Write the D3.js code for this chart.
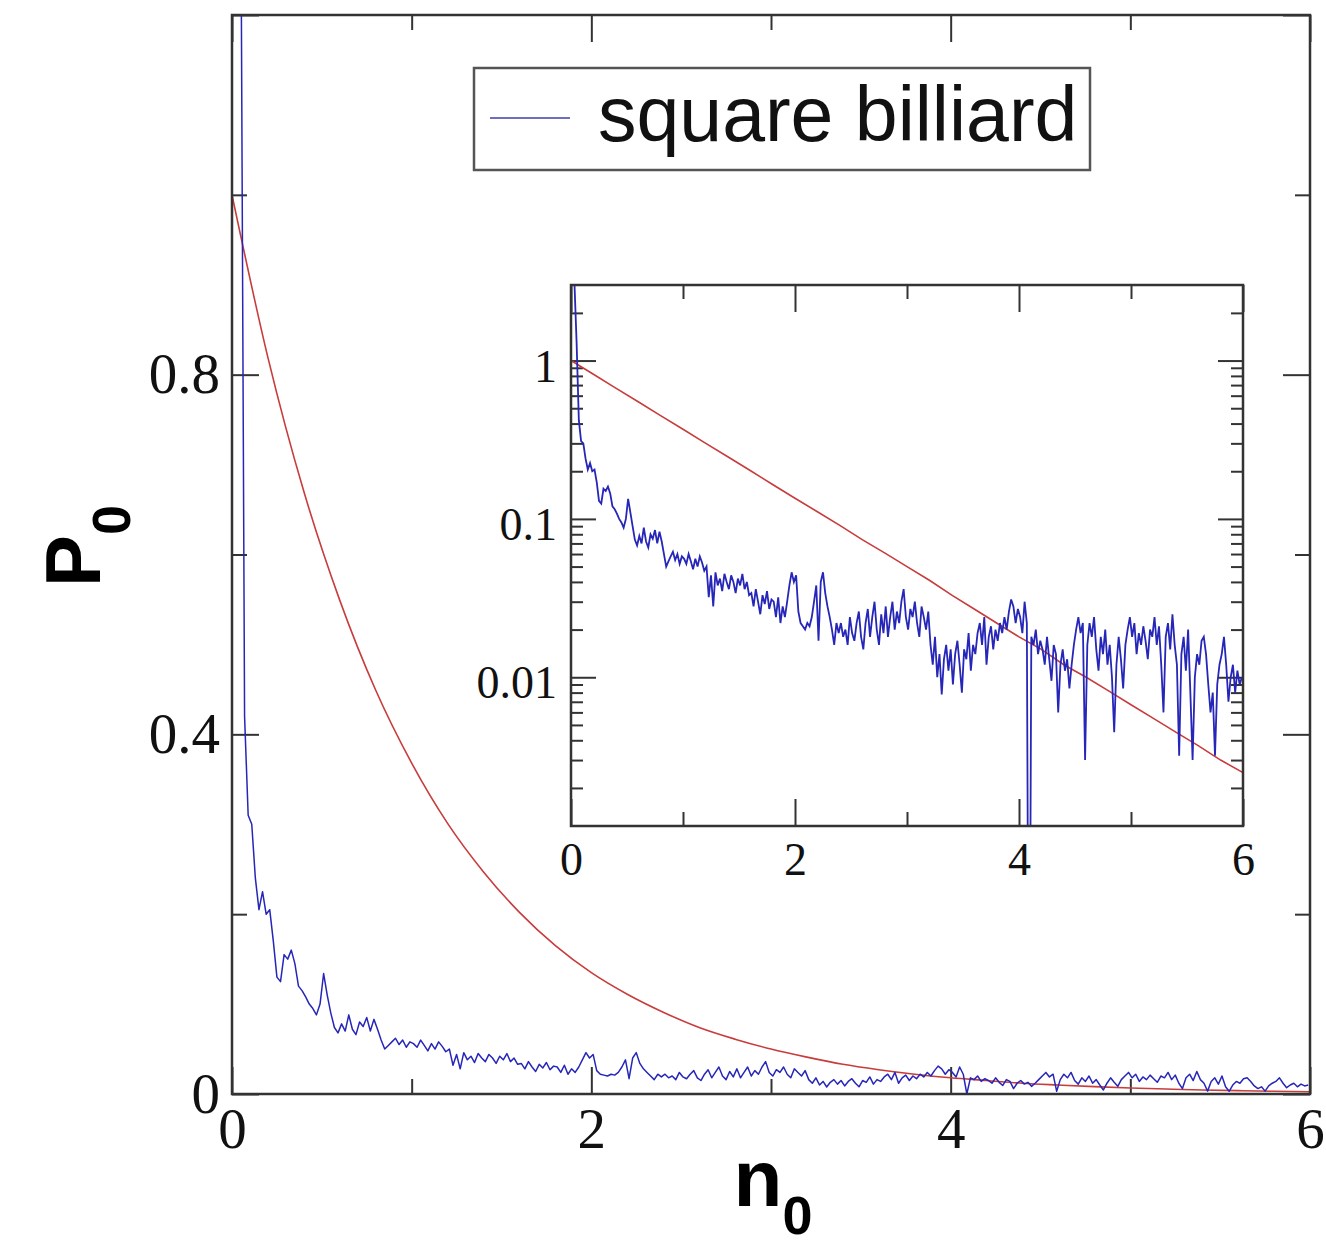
<!DOCTYPE html>
<html>
<head>
<meta charset="utf-8">
<script src="https://cdn.jsdelivr.net/npm/d3@7"></script>
<style>
  body { margin: 0; background: #fff; }
  svg { display: block; }
</style>
</head>
<body>
<div id="chart"></div>
<script>
// square billiard histogram, bins of 0.02 in n0
const binStart = 0.01;
const binStep = 0.02;
const billiardP0 = [
  5.0, 3.2, 1.3, 0.42, 0.31, 0.30, 0.24, 0.205, 0.225, 0.2,
  0.205, 0.17, 0.13, 0.125, 0.155, 0.15, 0.16, 0.145, 0.12, 0.115,
  0.108, 0.1, 0.095, 0.088, 0.1, 0.134, 0.11, 0.09, 0.074, 0.068,
  0.078, 0.07, 0.088, 0.072, 0.066, 0.08, 0.075, 0.085, 0.07, 0.083,
  0.072, 0.06, 0.05, 0.054, 0.058, 0.062, 0.055, 0.06, 0.052, 0.058,
  0.056, 0.052, 0.06, 0.054, 0.048, 0.056, 0.05, 0.058, 0.053, 0.047,
  0.05, 0.032, 0.044, 0.028, 0.046, 0.038, 0.042, 0.035, 0.045, 0.04,
  0.036, 0.044, 0.04, 0.034, 0.042, 0.038, 0.045, 0.036, 0.04, 0.033,
  0.034, 0.028, 0.036, 0.03, 0.025, 0.033, 0.029, 0.035, 0.027, 0.031,
  0.03, 0.024, 0.032, 0.022, 0.028, 0.024, 0.03, 0.038, 0.046, 0.04,
  0.044, 0.026, 0.022, 0.021, 0.02, 0.022, 0.021, 0.024, 0.03, 0.038,
  0.017, 0.04, 0.046, 0.034, 0.028, 0.024, 0.02, 0.016, 0.022, 0.019,
  0.022, 0.018, 0.02, 0.016, 0.024, 0.019, 0.017, 0.022, 0.026, 0.018,
  0.015, 0.022, 0.027, 0.018, 0.024, 0.03, 0.02, 0.016, 0.025, 0.019,
  0.028, 0.018, 0.024, 0.03, 0.02, 0.026, 0.022, 0.03, 0.036, 0.024,
  0.02, 0.027, 0.024, 0.03, 0.022, 0.018, 0.028, 0.024, 0.02, 0.026,
  0.016, 0.012, 0.018, 0.01, 0.014, 0.0078, 0.013, 0.016, 0.011, 0.015,
  0.009, 0.014, 0.017, 0.012, 0.008, 0.015, 0.013, 0.019, 0.011, 0.016,
  0.014, 0.019, 0.022, 0.016, 0.024, 0.012, 0.018, 0.021, 0.015, 0.02,
  0.017, 0.022, 0.019, 0.024, 0.02, 0.026, 0.031, 0.028, 0.022, 0.027,
  0.024, 0.019, 0.03, 0.022, 0, 0.018, 0.016, 0.02, 0.014, 0.017,
  0.015, 0.012, 0.018, 0.013, 0.0095, 0.016, 0.014, 0.006, 0.012, 0.015,
  0.011, 0.013, 0.0085, 0.012, 0.016, 0.02, 0.024, 0.019, 0.022, 0.003,
  0.016, 0.022, 0.018, 0.024, 0.015, 0.011, 0.018, 0.014, 0.02, 0.012,
  0.016, 0.01, 0.0045, 0.012, 0.018, 0.013, 0.0085, 0.016, 0.02, 0.024,
  0.018, 0.022, 0.014, 0.019, 0.016, 0.021, 0.017, 0.013, 0.02, 0.018,
  0.024, 0.016, 0.021, 0.012, 0.006, 0.018, 0.022, 0.015, 0.025, 0.016,
  0.012, 0.0032, 0.014, 0.018, 0.011, 0.02, 0.008, 0.003, 0.01, 0.014,
  0.012, 0.017, 0.018, 0.014, 0.009, 0.006, 0.008, 0.0032, 0.009, 0.012,
  0.014, 0.018, 0.012, 0.007, 0.01, 0.012, 0.008, 0.011, 0.009, 0.01
];

// reference curve (red), read every 0.2
const curveStep = 0.2;
const curveP0 = [
  1.0, 0.819, 0.670, 0.549, 0.449, 0.368, 0.301, 0.247, 0.202, 0.165,
  0.135, 0.111, 0.091, 0.074, 0.061, 0.050, 0.041, 0.033, 0.027, 0.022,
  0.018, 0.015, 0.012, 0.010, 0.0082, 0.0067, 0.0055, 0.0045, 0.0037, 0.0030,
  0.0025
];

const mainXMajor = [0, 2, 4, 6];
const mainXMinor = [1, 3, 5];
const mainYMajor = [0, 0.4, 0.8, 1.2];
const mainYMinor = [0.2, 0.6, 1.0];
const mainYLabels = ['0', '0.4', '0.8', ''];
const insetXMajor = [0, 2, 4, 6];
const insetXMinor = [1, 3, 5];
const insetYMajor = [0.01, 0.1, 1];
const insetYLabels = ['0.01', '0.1', '1'];
const legendLabel = 'square billiard';

const W = 1326, H = 1250;
const BLUE = '#2626b8';
const RED = '#c83c3c';
const FRAME = '#333';

const svg = d3.select('#chart').append('svg')
  .attr('width', W)
  .attr('height', H)
  .style('background-color', 'white');

const blueData = billiardP0.map((v, i) => [binStart + i * binStep, v]);
const redData = curveP0.map((v, i) => [i * curveStep, v]);

// ---------- main plot ----------
const m = { left: 232, right: 1310, top: 15, bottom: 1094 };
const x = d3.scaleLinear().domain([0, 6]).range([m.left, m.right]);
const y = d3.scaleLinear().domain([0, 1.2]).range([m.bottom, m.top]);

svg.append('clipPath').attr('id', 'clip-main')
  .append('rect')
  .attr('x', m.left).attr('y', m.top)
  .attr('width', m.right - m.left).attr('height', m.bottom - m.top);

function styleAxis(g, size) {
  g.select('.domain').remove();
  g.selectAll('line').attr('stroke', FRAME).attr('stroke-width', 2);
  g.selectAll('text')
    .attr('fill', '#111')
    .style('font-family', "'Liberation Serif', 'Times New Roman', serif")
    .style('font-size', size + 'px');
}

// bottom
svg.append('g').attr('transform', `translate(0,${m.bottom})`)
  .call(d3.axisBottom(x).tickValues(mainXMajor).tickSize(-27).tickPadding(14).tickFormat(d3.format('d')))
  .call(g => styleAxis(g, 57));
svg.append('g').attr('transform', `translate(0,${m.bottom})`)
  .call(d3.axisBottom(x).tickValues(mainXMinor).tickSize(-15).tickFormat(''))
  .call(g => styleAxis(g, 57));
// top
svg.append('g').attr('transform', `translate(0,${m.top})`)
  .call(d3.axisTop(x).tickValues(mainXMajor).tickSize(-27).tickFormat(''))
  .call(g => styleAxis(g, 57));
svg.append('g').attr('transform', `translate(0,${m.top})`)
  .call(d3.axisTop(x).tickValues(mainXMinor).tickSize(-15).tickFormat(''))
  .call(g => styleAxis(g, 57));
// left
svg.append('g').attr('transform', `translate(${m.left},0)`)
  .call(d3.axisLeft(y).tickValues(mainYMajor).tickSize(-27).tickPadding(12)
    .tickFormat((d, i) => mainYLabels[i]))
  .call(g => styleAxis(g, 57));
svg.append('g').attr('transform', `translate(${m.left},0)`)
  .call(d3.axisLeft(y).tickValues(mainYMinor).tickSize(-15).tickFormat(''))
  .call(g => styleAxis(g, 57));
// right
svg.append('g').attr('transform', `translate(${m.right},0)`)
  .call(d3.axisRight(y).tickValues(mainYMajor).tickSize(-27).tickFormat(''))
  .call(g => styleAxis(g, 57));
svg.append('g').attr('transform', `translate(${m.right},0)`)
  .call(d3.axisRight(y).tickValues(mainYMinor).tickSize(-15).tickFormat(''))
  .call(g => styleAxis(g, 57));

const mainLines = svg.append('g').attr('clip-path', 'url(#clip-main)');
mainLines.append('path')
  .datum(redData)
  .attr('fill', 'none')
  .attr('stroke', RED)
  .attr('stroke-width', 1.6)
  .attr('d', d3.line().x(d => x(d[0])).y(d => y(d[1])).curve(d3.curveMonotoneX));
mainLines.append('path')
  .datum(blueData)
  .attr('fill', 'none')
  .attr('stroke', BLUE)
  .attr('stroke-width', 1.5)
  .attr('stroke-linejoin', 'round')
  .attr('d', d3.line().x(d => x(d[0])).y(d => y(d[1])));

svg.append('rect')
  .attr('x', m.left).attr('y', m.top)
  .attr('width', m.right - m.left).attr('height', m.bottom - m.top)
  .attr('fill', 'none').attr('stroke', FRAME).attr('stroke-width', 2.5);

// axis titles
const xTitle = svg.append('text')
  .attr('x', 773).attr('y', 1206)
  .attr('text-anchor', 'middle')
  .style('font-family', "'Liberation Sans', Arial, sans-serif")
  .style('font-weight', 'bold')
  .style('font-size', '80px')
  .text('n');
xTitle.append('tspan').attr('dy', 28).style('font-size', '54px').text('0');

const yTitle = svg.append('text')
  .attr('transform', 'translate(100,546) rotate(-90)')
  .attr('text-anchor', 'middle')
  .style('font-family', "'Liberation Sans', Arial, sans-serif")
  .style('font-weight', 'bold')
  .style('font-size', '78px')
  .text('P');
yTitle.append('tspan').attr('dy', 30).style('font-size', '54px').text('0');

// legend
const legend = svg.append('g');
legend.append('rect')
  .attr('x', 474).attr('y', 68).attr('width', 616).attr('height', 102)
  .attr('fill', 'white').attr('stroke', '#555').attr('stroke-width', 2.5);
legend.append('line')
  .attr('x1', 490).attr('x2', 570).attr('y1', 118).attr('y2', 118)
  .attr('stroke', '#6e6ec0').attr('stroke-width', 2);
legend.append('text')
  .attr('x', 598).attr('y', 141)
  .style('font-family', "'Liberation Sans', Arial, sans-serif")
  .style('font-size', '77px')
  .attr('fill', '#111')
  .text(legendLabel);

// ---------- inset ----------
const n = { left: 571, right: 1243, top: 285, bottom: 826 };
const ix = d3.scaleLinear().domain([0, 6]).range([n.left, n.right]);
const iy = d3.scaleLog().domain([0.00115, 3]).range([n.bottom, n.top]);

svg.append('rect')
  .attr('x', n.left).attr('y', n.top)
  .attr('width', n.right - n.left).attr('height', n.bottom - n.top)
  .attr('fill', 'white');

svg.append('clipPath').attr('id', 'clip-inset')
  .append('rect')
  .attr('x', n.left).attr('y', n.top)
  .attr('width', n.right - n.left).attr('height', n.bottom - n.top);

const [lo, hi] = iy.domain();
const insetYMinor = [];
[0.001, 0.01, 0.1, 1].forEach(dec => {
  for (let k = 2; k <= 9; k++) {
    const v = k * dec;
    if (v > lo && v < hi) insetYMinor.push(v);
  }
});

svg.append('g').attr('transform', `translate(0,${n.bottom})`)
  .call(d3.axisBottom(ix).tickValues(insetXMajor).tickSize(-27).tickPadding(16).tickFormat(d3.format('d')))
  .call(g => styleAxis(g, 46));
svg.append('g').attr('transform', `translate(0,${n.bottom})`)
  .call(d3.axisBottom(ix).tickValues(insetXMinor).tickSize(-14).tickFormat(''))
  .call(g => styleAxis(g, 46));
svg.append('g').attr('transform', `translate(0,${n.top})`)
  .call(d3.axisTop(ix).tickValues(insetXMajor).tickSize(-27).tickFormat(''))
  .call(g => styleAxis(g, 46));
svg.append('g').attr('transform', `translate(0,${n.top})`)
  .call(d3.axisTop(ix).tickValues(insetXMinor).tickSize(-14).tickFormat(''))
  .call(g => styleAxis(g, 46));
svg.append('g').attr('transform', `translate(${n.left},0)`)
  .call(d3.axisLeft(iy).tickValues(insetYMajor).tickSize(-25).tickPadding(14)
    .tickFormat((d, i) => insetYLabels[i]))
  .call(g => styleAxis(g, 46))
  .call(g => g.selectAll('text').attr('dy', '0.45em'));
svg.append('g').attr('transform', `translate(${n.left},0)`)
  .call(d3.axisLeft(iy).tickValues(insetYMinor).tickSize(-12).tickFormat(''))
  .call(g => styleAxis(g, 46));
svg.append('g').attr('transform', `translate(${n.right},0)`)
  .call(d3.axisRight(iy).tickValues(insetYMajor).tickSize(-25).tickFormat(''))
  .call(g => styleAxis(g, 46));
svg.append('g').attr('transform', `translate(${n.right},0)`)
  .call(d3.axisRight(iy).tickValues(insetYMinor).tickSize(-12).tickFormat(''))
  .call(g => styleAxis(g, 46));

const insetLines = svg.append('g').attr('clip-path', 'url(#clip-inset)');
insetLines.append('path')
  .datum(redData)
  .attr('fill', 'none')
  .attr('stroke', RED)
  .attr('stroke-width', 1.6)
  .attr('d', d3.line().x(d => ix(d[0])).y(d => iy(d[1])));
// empty bins (0) drop out of the log range, drawn through the bottom edge
insetLines.append('path')
  .datum(blueData)
  .attr('fill', 'none')
  .attr('stroke', BLUE)
  .attr('stroke-width', 1.8)
  .attr('d', d3.line().x(d => ix(d[0])).y(d => iy(Math.max(d[1], 1e-5))));

svg.append('rect')
  .attr('x', n.left).attr('y', n.top)
  .attr('width', n.right - n.left).attr('height', n.bottom - n.top)
  .attr('fill', 'none').attr('stroke', FRAME).attr('stroke-width', 2.5);
</script>
</body>
</html>
